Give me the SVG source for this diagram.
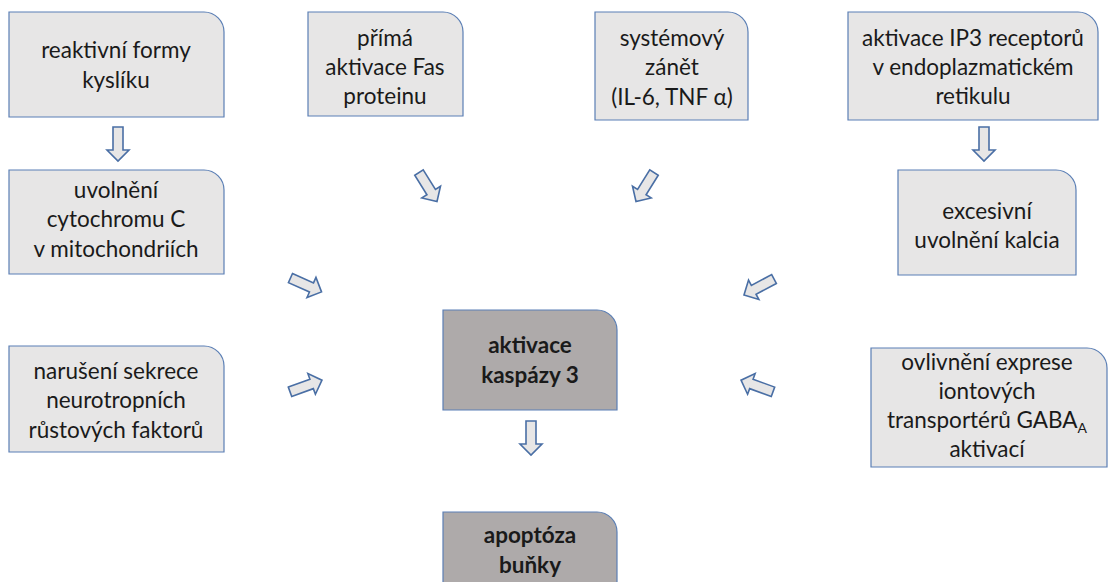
<svg xmlns="http://www.w3.org/2000/svg" width="1108" height="582" viewBox="0 0 1108 582">
<style>
.box{fill:#e7e6e6;stroke:#5b7fb5;stroke-width:1.2}
.dark{fill:#aeaaaa;stroke:#5b7fb5;stroke-width:1.2}
text{font-family:Lato,"Liberation Sans",sans-serif;font-size:22.5px;fill:#1a1a1a;text-anchor:middle}
.b{font-weight:bold}
.arr{fill:#e7e6e6;stroke:#4a6fa5;stroke-width:1.6;stroke-linejoin:miter}
</style>
<defs>
<path id="ar" d="M-17,-5 L6,-5 L6,-11 L17,0 L6,11 L6,5 L-17,5 Z"/>
</defs>
<rect width="1108" height="582" fill="#ffffff"/>
<g id="n1"><path class="box" d="M9,12 H204 A20,20 0 0 1 224,32 V117 H9 Z"/>
<text x="116" y="58">reaktivní formy</text><text x="116" y="88">kyslíku</text></g>
<g id="n2"><path class="box" d="M308,12 H443 A20,20 0 0 1 463,32 V116 H308 Z"/>
<text x="385" y="46">přímá</text><text x="385" y="75">aktivace Fas</text><text x="385" y="104">proteinu</text></g>
<g id="n3"><path class="box" d="M595,12 H728 A20,20 0 0 1 748,32 V120 H595 Z"/>
<text x="672" y="46">systémový</text><text x="672" y="75">zánět</text><text x="672" y="105">(IL-6, TNF α)</text></g>
<g id="n4"><path class="box" d="M848,12 H1078 A20,20 0 0 1 1098,32 V120 H848 Z"/>
<text x="973" y="46">aktivace IP3 receptorů</text><text x="973" y="75">v endoplazmatickém</text><text x="973" y="104">retikulu</text></g>
<g id="n5"><path class="box" d="M9,170 H204 A20,20 0 0 1 224,190 V274 H9 Z"/>
<text x="116" y="198">uvolnění</text><text x="116" y="227">cytochromu C</text><text x="116" y="257">v mitochondriích</text></g>
<g id="n6"><path class="box" d="M898,170 H1056 A20,20 0 0 1 1076,190 V275 H898 Z"/>
<text x="987" y="219">excesivní</text><text x="987" y="248">uvolnění kalcia</text></g>
<g id="n7"><path class="box" d="M9,346 H204 A20,20 0 0 1 224,366 V452 H9 Z"/>
<text x="116" y="379">narušení sekrece</text><text x="116" y="408">neurotropních</text><text x="116" y="438">růstových faktorů</text></g>
<g id="n8"><path class="box" d="M871,348 H1087 A20,20 0 0 1 1107,368 V467 H871 Z"/>
<text x="987" y="370">ovlivnění exprese</text><text x="987" y="399">iontových</text><text x="987" y="428">transportérů GABA<tspan font-size="14" dy="5">A</tspan></text><text x="987" y="457">aktivací</text></g>
<g id="n9"><path class="dark" d="M443,310 H597 A20,20 0 0 1 617,330 V410 H443 Z"/>
<text class="b" x="530" y="353">aktivace</text><text class="b" x="530" y="383">kaspázy 3</text></g>
<g id="n10"><path class="dark" d="M443,512 H597 A20,20 0 0 1 617,532 V590 H443 Z"/>
<text class="b" x="530" y="543">apoptóza</text><text class="b" x="530" y="573">buňky</text></g>
<g id="connectors">
<use href="#ar" class="arr" transform="translate(118,144) rotate(90)"/>
<use href="#ar" class="arr" transform="translate(984,144) rotate(90)"/>
<use href="#ar" class="arr" transform="translate(531,438) rotate(90)"/>
<use href="#ar" class="arr" transform="translate(306,285) rotate(24)"/>
<use href="#ar" class="arr" transform="translate(428,187) rotate(58)"/>
<use href="#ar" class="arr" transform="translate(645,187) rotate(122)"/>
<use href="#ar" class="arr" transform="translate(759,287) rotate(152)"/>
<use href="#ar" class="arr" transform="translate(306,386) rotate(-20)"/>
<use href="#ar" class="arr" transform="translate(757,386) rotate(200)"/>
</g>
</svg>
